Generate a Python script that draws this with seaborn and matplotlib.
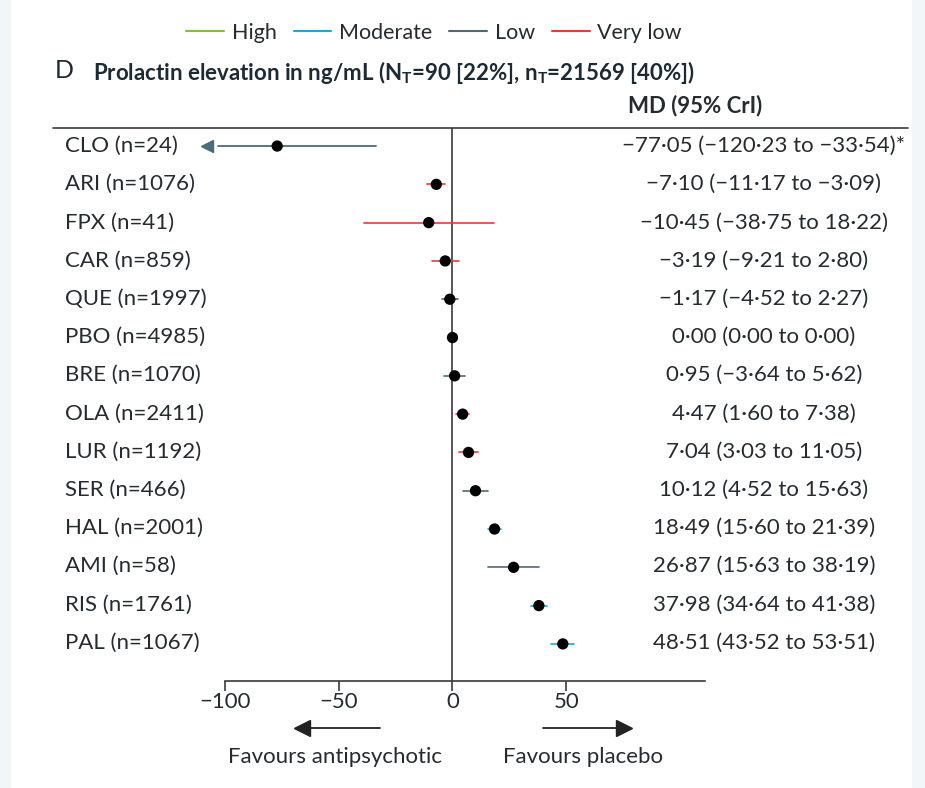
import seaborn as sns
import pandas as pd
import matplotlib.pyplot as plt
from matplotlib.lines import Line2D
from matplotlib.patches import Rectangle

# prolactin elevation, mean difference vs placebo
drugs = ["CLO (n=24)", "ARI (n=1076)", "FPX (n=41)", "CAR (n=859)", "QUE (n=1997)",
         "PBO (n=4985)", "BRE (n=1070)", "OLA (n=2411)", "LUR (n=1192)", "SER (n=466)",
         "HAL (n=2001)", "AMI (n=58)", "RIS (n=1761)", "PAL (n=1067)"]
md = [-77.05, -7.10, -10.45, -3.19, -1.17, 0.00, 0.95, 4.47, 7.04, 10.12, 18.49, 26.87, 37.98, 48.51]
lo = [-120.23, -11.17, -38.75, -9.21, -4.52, 0.00, -3.64, 1.60, 3.03, 4.52, 15.60, 15.63, 34.64, 43.52]
hi = [-33.54, -3.09, 18.22, 2.80, 2.27, 0.00, 5.62, 7.38, 11.05, 15.63, 21.39, 38.19, 41.38, 53.51]
certainty = ["Low", "Very low", "Very low", "Very low", "Low", "Low", "Low", "Very low",
             "Very low", "Low", "Moderate", "Low", "Moderate", "Moderate"]
md_text = ["\u221277\u00b705 (\u2212120\u00b723 to \u221233\u00b754)*", "\u22127\u00b710 (\u221211\u00b717 to \u22123\u00b709)",
           "\u221210\u00b745 (\u221238\u00b775 to 18\u00b722)", "\u22123\u00b719 (\u22129\u00b721 to 2\u00b780)",
           "\u22121\u00b717 (\u22124\u00b752 to 2\u00b727)", "0\u00b700 (0\u00b700 to 0\u00b700)",
           "0\u00b795 (\u22123\u00b764 to 5\u00b762)", "4\u00b747 (1\u00b760 to 7\u00b738)",
           "7\u00b704 (3\u00b703 to 11\u00b705)", "10\u00b712 (4\u00b752 to 15\u00b763)",
           "18\u00b749 (15\u00b760 to 21\u00b739)", "26\u00b787 (15\u00b763 to 38\u00b719)",
           "37\u00b798 (34\u00b764 to 41\u00b738)", "48\u00b751 (43\u00b752 to 53\u00b751)"]
levels = ["High", "Moderate", "Low", "Very low"]
colors = {"High": "#7cc242", "Moderate": "#1fa9d0", "Low": "#4d6b78", "Very low": "#ec3a38"}

df = pd.DataFrame({"drug": drugs, "md": md, "lo": lo, "hi": hi, "cert": certainty})
df["row"] = range(len(df))

sns.set_theme(style="white")
plt.rcParams['font.family'] = ['Lato', 'DejaVu Sans']
txt = "#262b30"
fs = 16

W, H = 925, 788
fig = plt.figure(figsize=(W / 100, H / 100), dpi=100)
for x0, w in [(0, 10), (912, 13)]:
    fig.patches.append(Rectangle((x0 / W, 0), w / W, 1, transform=fig.transFigure,
                                 color="#f2f6f9", zorder=-1))

# plot area: x -100 at px 225, axis ends at px 705; rows from y=128 to 681
ax = fig.add_axes([225 / W, 1 - 681 / H, (705 - 225) / W, (681 - 128) / H])
ax.set_xlim(-100, (705 - 453) / 2.27)
ax.set_ylim(13 + (681 - 644) / 38.2, -(146 - 128) / 38.2)

for _, r in df.iterrows():
    c = colors[r["cert"]]
    if r["lo"] < -100:
        ax.plot([-103, r["hi"]], [r["row"]] * 2, color=c, lw=1.3, zorder=2, clip_on=False)
        ax.plot([-108], [r["row"]], marker="<", color=c, ms=9, zorder=2, clip_on=False)
    else:
        ax.plot([r["lo"], r["hi"]], [r["row"]] * 2, color=c, lw=1.2, zorder=2)

sns.scatterplot(data=df, x="md", y="row", color="black", s=66, edgecolor="none",
                zorder=3, ax=ax, legend=False)
ax.axvline(0, color="#3a3a3a", lw=1.2, zorder=1)

for s in ["top", "right", "left"]:
    ax.spines[s].set_visible(False)
ax.spines["bottom"].set_color("#3a3a3a")
ax.spines["bottom"].set_linewidth(1.2)
ax.set_yticks([])
ax.set_xticks([-100, -50, 0, 50])
ax.set_xticklabels(["\u2212100", "\u221250", "0", "50"], fontsize=fs, color=txt)
ax.tick_params(axis="x", direction="out", length=7, width=1.2, color="#3a3a3a", pad=1, bottom=True)
ax.set_xlabel("")
ax.set_ylabel("")

# row labels and MD column
for i, r in df.iterrows():
    yf = 1 - (146 + i * 38.2) / H
    fig.text(65 / W, yf, r["drug"], ha="left", va="center", fontsize=fs, color=txt)
    fig.text(764 / W, yf, md_text[i], ha="center", va="center", fontsize=fs, color=txt)

fig.add_artist(Line2D([53 / W, 908 / W], [1 - 128 / H] * 2, color="#3a3a3a", lw=1.2))
fig.text(628 / W, 1 - 106 / H, "MD (95% CrI)", ha="left", va="center", fontsize=fs,
         fontweight="bold", color=txt)
fig.text(55 / W, 1 - 71 / H, "D", ha="left", va="center", fontsize=18, color="#1e2a33")
fig.text(93 / W, 1 - 73 / H, "Prolactin elevation in ng/mL (N$_\\mathregular{T}$=90 [22%], n$_\\mathregular{T}$=21569 [40%])",
         ha="left", va="center", fontsize=fs, fontweight="bold", color="#1e2a33")

# legend
handles = [Line2D([0], [0], color=colors[k], lw=1.5) for k in levels]
fig.legend(handles, levels, loc="center", bbox_to_anchor=(434 / W, 1 - 33 / H), ncol=4,
           frameon=False, fontsize=15.5, handlelength=1.75, handletextpad=0.35,
           columnspacing=0.8, labelcolor=txt)

# direction arrows
fig.add_artist(Line2D([310 / W, 380 / W], [1 - 728 / H] * 2, color="#222", lw=1.3))
fig.add_artist(Line2D([543 / W, 618 / W], [1 - 728 / H] * 2, color="#222", lw=1.3))
fig.add_artist(Line2D([302 / W], [1 - 728 / H], marker="<", color="#222", ms=12, lw=0))
fig.add_artist(Line2D([624 / W], [1 - 728 / H], marker=">", color="#222", ms=12, lw=0))
fig.text(335 / W, 1 - 757 / H, "Favours antipsychotic", ha="center", va="center",
         fontsize=fs, color=txt)
fig.text(583 / W, 1 - 757 / H, "Favours placebo", ha="center", va="center",
         fontsize=fs, color=txt)

plt.savefig("out.png", dpi=100)
